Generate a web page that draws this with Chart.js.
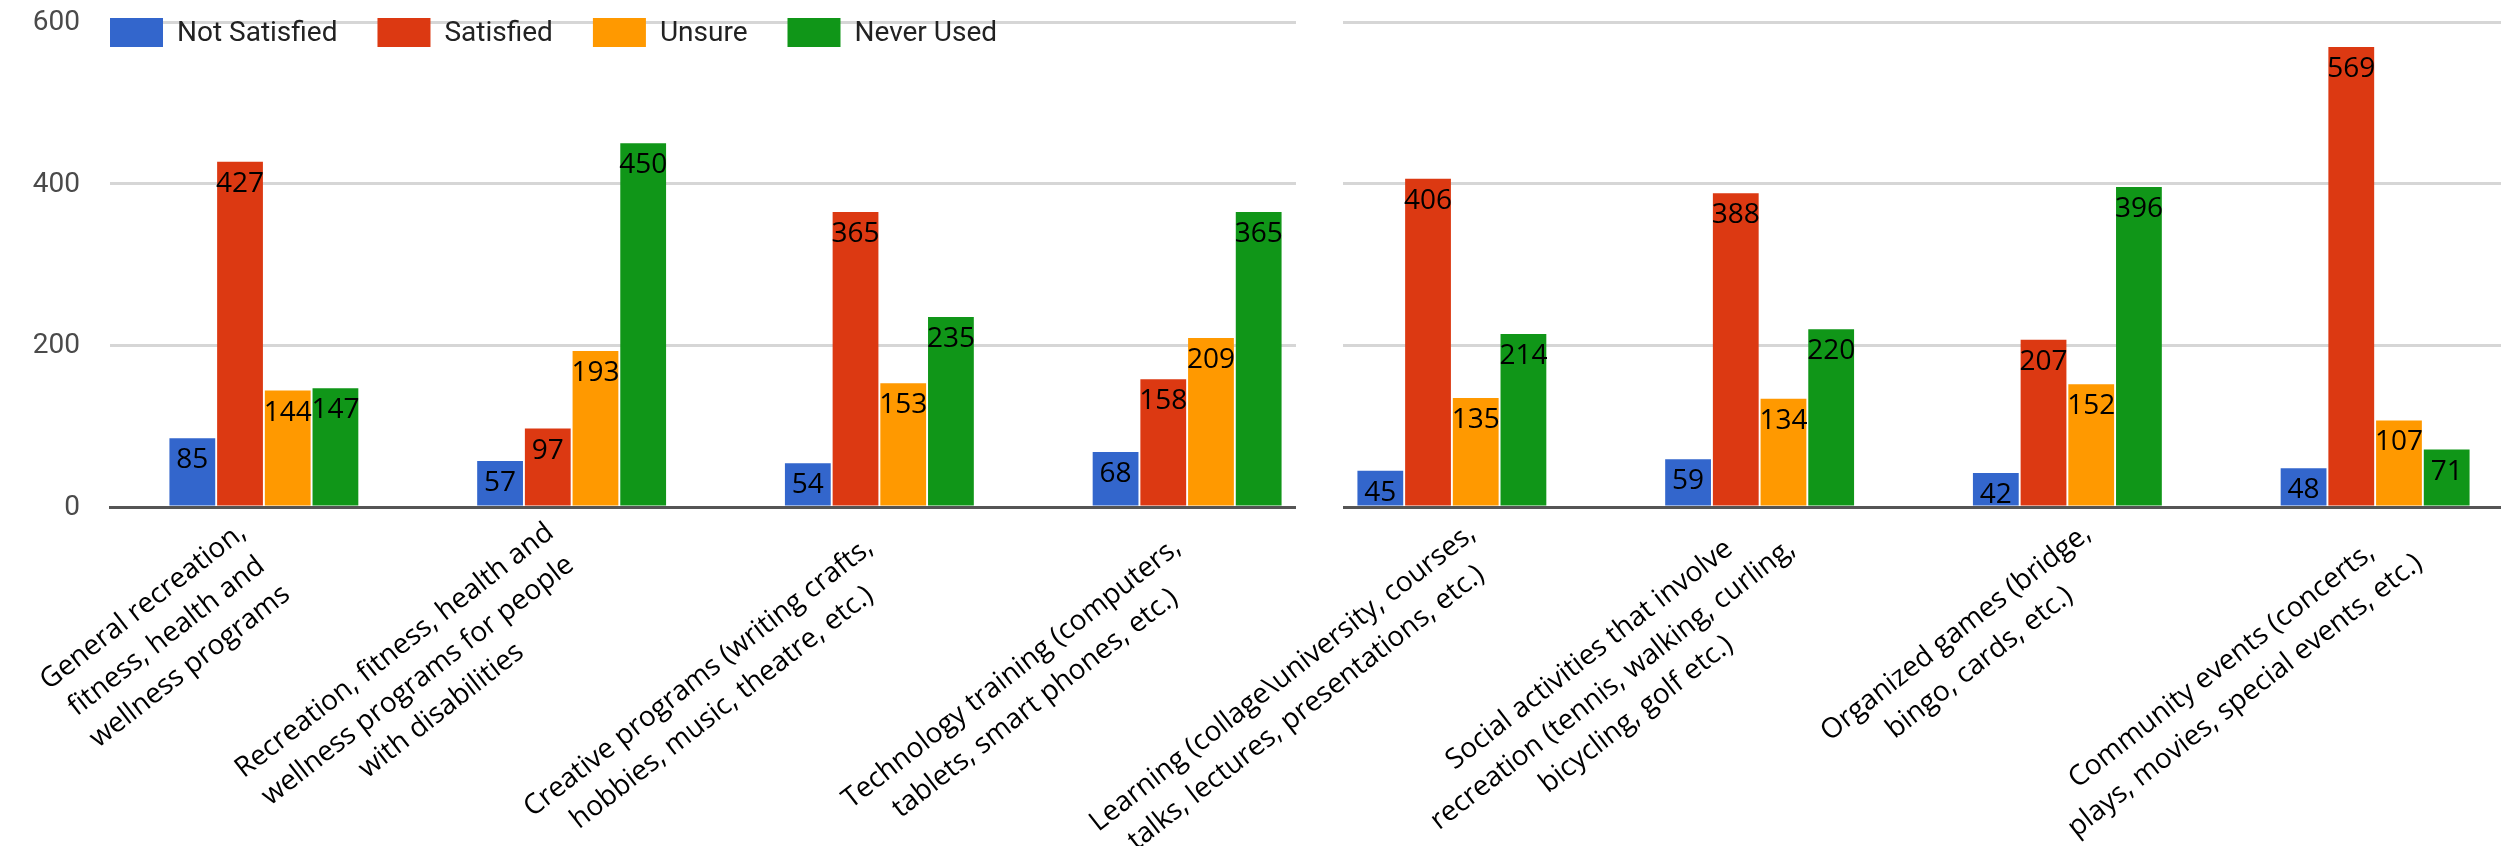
<!DOCTYPE html>
<html>
<head>
<meta charset="utf-8">
<title>Program satisfaction</title>
<script src="https://cdn.jsdelivr.net/npm/chart.js@4"></script>
<style>
  html, body { margin: 0; padding: 0; background: #fff; overflow: hidden; }
  body { position: relative; width: 2501px; height: 846px; }
  #leftPanel { position: absolute; left: 0; top: 0; width: 1298px; height: 846px; overflow: hidden; }
  #leftChart { position: absolute; left: 0; top: 0; }
  #rightChart { position: absolute; left: 1000px; top: 0; }
</style>
</head>
<body>
<div id="leftPanel"><canvas id="leftChart" width="1341" height="846"></canvas></div>
<canvas id="rightChart" width="1529" height="846"></canvas>
<script>
// categories (x axis), one array of lines per label
const categories = [
  ['General recreation,', 'fitness, health and', 'wellness programs'],
  ['Recreation, fitness, health and', 'wellness programs for people', 'with disabilities'],
  ['Creative programs (writing crafts,', 'hobbies, music, theatre, etc.)'],
  ['Technology training (computers,', 'tablets, smart phones, etc.)'],
  ['Learning (collage\\university, courses,', 'talks, lectures, presentations, etc.)'],
  ['Social activities that involve', 'recreation (tennis, walking, curling,', 'bicycling, golf etc.)'],
  ['Organized games (bridge,', 'bingo, cards, etc.)'],
  ['Community events (concerts,', 'plays, movies, special events, etc.)']
];

const seriesNames = ['Not Satisfied', 'Satisfied', 'Unsure', 'Never Used'];
const notSatisfied = [85, 57, 54, 68, 45, 59, 42, 48];
const satisfied = [427, 97, 365, 158, 406, 388, 207, 569];
const unsure = [144, 193, 153, 209, 135, 134, 152, 107];
const neverUsed = [147, 450, 235, 365, 214, 220, 396, 71];
const yTicks = [0, 200, 400, 600];

const colours = ['#3366cc', '#dc3912', '#ff9900', '#109618'];
const labelFont = '"Open Sans", sans-serif';

// numbers inside the top of every bar
const valueLabels = {
  id: 'valueLabels',
  afterDatasetsDraw(chart) {
    const ctx = chart.ctx;
    ctx.save();
    ctx.font = '28px ' + labelFont;
    ctx.fillStyle = '#000';
    ctx.textAlign = 'center';
    ctx.textBaseline = 'middle';
    chart.data.datasets.forEach((ds, i) => {
      chart.getDatasetMeta(i).data.forEach((bar, j) => {
        ctx.fillText(ds.data[j], bar.x, bar.y + 22);
      });
    });
    ctx.restore();
  }
};

// y tick numbers drawn by hand so they do not push the plot down
const yLabels = {
  id: 'yLabels',
  afterDraw(chart, args, opts) {
    if (!opts.show) return;
    const ctx = chart.ctx;
    const ys = chart.scales.y;
    ctx.save();
    ctx.font = '28px Roboto, sans-serif';
    ctx.fillStyle = '#4a4a4a';
    ctx.textAlign = 'right';
    ctx.textBaseline = 'middle';
    yTicks.forEach(v => {
      ctx.fillText(String(v), chart.chartArea.left - 30, ys.getPixelForValue(v) + 1);
    });
    ctx.restore();
  }
};

// slanted multi-line category labels: lines centred, block hung by its right edge
const slantedLabels = {
  id: 'slantedLabels',
  afterDraw(chart, args, opts) {
    const ctx = chart.ctx;
    const xs = chart.scales.x;
    const area = chart.chartArea;
    ctx.save();
    if (opts.gap) {
      // white strip where the two screenshots were joined
      ctx.fillStyle = '#fff';
      ctx.fillRect(area.left - 2, 0, opts.gap, area.bottom + 4);
    }
    ctx.font = '28px ' + labelFont;
    ctx.fillStyle = '#000';
    ctx.textAlign = 'center';
    ctx.textBaseline = 'middle';
    const lh = 38;
    const ang = 38 * Math.PI / 180;
    chart.data.labels.forEach((lines, i) => {
      const x = xs.getPixelForTick(i);
      const w = Math.max(...lines.map(t => ctx.measureText(t).width));
      ctx.save();
      ctx.translate(x + opts.dx, xs.top + opts.dy);
      ctx.rotate(-ang);
      lines.forEach((t, j) => {
        ctx.fillText(t, -w / 2, (j - (lines.length - 1) / 2) * lh);
      });
      ctx.restore();
    });
    ctx.restore();
  }
};

// legend sitting on top of the plot, as in the original
const topLegend = {
  id: 'topLegend',
  afterDraw(chart, args, opts) {
    if (!opts.show) return;
    const ctx = chart.ctx;
    ctx.save();
    ctx.font = '28px Roboto, sans-serif';
    ctx.textBaseline = 'middle';
    ctx.textAlign = 'left';
    let x = chart.chartArea.left;
    const top = 18, bw = 53, bh = 29;
    chart.data.datasets.forEach(ds => {
      ctx.fillStyle = ds.backgroundColor;
      ctx.fillRect(x, top, bw, bh);
      x += bw + 14;
      ctx.fillStyle = '#222';
      ctx.fillText(ds.label, x, top + bh / 2 + 1);
      x += ctx.measureText(ds.label).width + 40;
    });
    ctx.restore();
  }
};

function makeChart(canvasId, from, to, o) {
  const series = [notSatisfied, satisfied, unsure, neverUsed];
  return new Chart(document.getElementById(canvasId), {
    type: 'bar',
    data: {
      labels: categories.slice(from, to),
      datasets: series.map((s, i) => ({
        label: seriesNames[i],
        data: s.slice(from, to),
        backgroundColor: colours[i],
        categoryPercentage: 0.62,
        barPercentage: 0.96
      }))
    },
    options: {
      responsive: false,
      animation: false,
      layout: { padding: { top: 22, left: o.padLeft, right: 0, bottom: 0 } },
      plugins: {
        legend: { display: false },
        tooltip: { enabled: false },
        topLegend: { show: o.legend },
        yLabels: { show: o.yLabels },
        slantedLabels: { gap: o.gap, dx: o.labelDx, dy: o.labelDy }
      },
      scales: {
        x: {
          z: 1,
          grid: { display: false },
          border: { display: true, color: '#555', width: 3 },
          ticks: { display: false },
          afterFit: s => { s.height = 339; }
        },
        y: {
          min: 0,
          max: 600,
          afterBuildTicks: s => { s.ticks = yTicks.map(v => ({ value: v })); },
          afterFit: s => { s.width = o.yWidth; },
          grid: { color: '#d6d6d6', lineWidth: 3, drawTicks: false },
          border: { display: false },
          ticks: { display: false }
        }
      }
    },
    plugins: [valueLabels, yLabels, slantedLabels, topLegend]
  });
}

makeChart('leftChart', 0, 4, { padLeft: 0, yWidth: 110, yLabels: true, legend: true, gap: 0, labelDx: 2, labelDy: 52 });
makeChart('rightChart', 4, 8, { padLeft: 298, yWidth: 0, yLabels: false, legend: false, gap: 47, labelDx: 32, labelDy: 38 });
</script>
</body>
</html>
